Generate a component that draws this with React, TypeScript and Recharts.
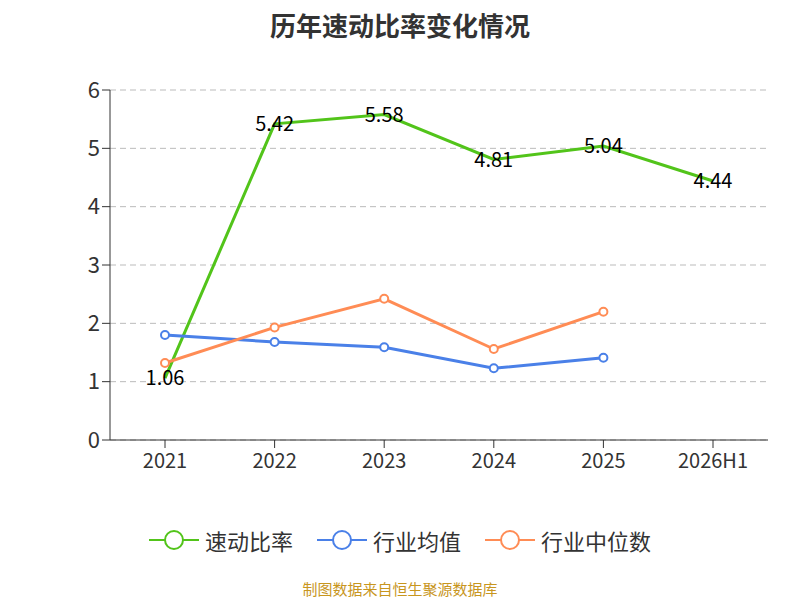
import { LineChart, Line, XAxis, YAxis, CartesianGrid, LabelList } from 'recharts';

const years = ['2021', '2022', '2023', '2024', '2025', '2026H1'];
const quickRatio = [1.06, 5.42, 5.58, 4.81, 5.04, 4.44];
const industryAvg = [1.8, 1.68, 1.59, 1.23, 1.41, null];
const industryMedian = [1.32, 1.93, 2.42, 1.56, 2.2, null];
const yTicks = [0, 1, 2, 3, 4, 5, 6];

const data = years.map((y, i) => ({
  name: y,
  quick: quickRatio[i],
  avg: industryAvg[i],
  median: industryMedian[i],
}));

const font = '"Noto Sans CJK SC", "Noto Sans", sans-serif';

const LegendItem = ({ color, label }: { color: string; label: string }) => (
  <div style={{ display: 'flex', alignItems: 'center', margin: '0 12px' }}>
    <svg width={50} height={24}>
      <line x1={0} y1={12} x2={50} y2={12} stroke={color} strokeWidth={2} />
      <circle cx={25} cy={12} r={9} fill="#fff" stroke={color} strokeWidth={2} />
    </svg>
    <span style={{ fontSize: 22, color: '#333', marginLeft: 6 }}>{label}</span>
  </div>
);

export default function App() {
  return (
    <div style={{ position: 'absolute', left: 0, top: 0, width: 800, height: 600, fontFamily: font, background: '#fff' }}>
      <div style={{ position: 'absolute', top: 6, width: 800, textAlign: 'center', fontSize: 26, fontWeight: 'bold', color: '#333' }}>
        历年速动比率变化情况
      </div>
      <LineChart width={800} height={600} data={data} margin={{ top: 90, right: 32, left: 60, bottom: 130 }}>
        <CartesianGrid vertical={false} stroke="#bbb" strokeDasharray="6 4" />
        <XAxis dataKey="name" stroke="#333" tickSize={8} height={30}
          tick={{ fill: '#333', fontSize: 20 }} tickMargin={6} padding={{ left: 55, right: 55 }}
          interval={0} />
        <YAxis domain={[0, 6]} ticks={yTicks} width={50} stroke="#333" tickSize={8} tick={{ fill: '#333', fontSize: 22 }} />
        <Line dataKey="quick" stroke="#52c41a" strokeWidth={3} dot={false} isAnimationActive={false}>
          <LabelList dataKey="quick" position="center" style={{ fill: '#000', fontSize: 20 }} />
        </Line>
        <Line dataKey="avg" stroke="#4a80e8" strokeWidth={3} dot={{ r: 4, fill: '#fff', strokeWidth: 2 }} isAnimationActive={false} />
        <Line dataKey="median" stroke="#ff8c55" strokeWidth={3} dot={{ r: 4, fill: '#fff', strokeWidth: 2 }} isAnimationActive={false} />
      </LineChart>
      <div style={{ position: 'absolute', top: 524, width: 800, display: 'flex', justifyContent: 'center' }}>
        <LegendItem color="#52c41a" label="速动比率" />
        <LegendItem color="#4a80e8" label="行业均值" />
        <LegendItem color="#ff8c55" label="行业中位数" />
      </div>
      <div style={{ position: 'absolute', top: 578, width: 800, textAlign: 'center', fontSize: 15, color: '#c8961e' }}>
        制图数据来自恒生聚源数据库
      </div>
    </div>
  );
}
